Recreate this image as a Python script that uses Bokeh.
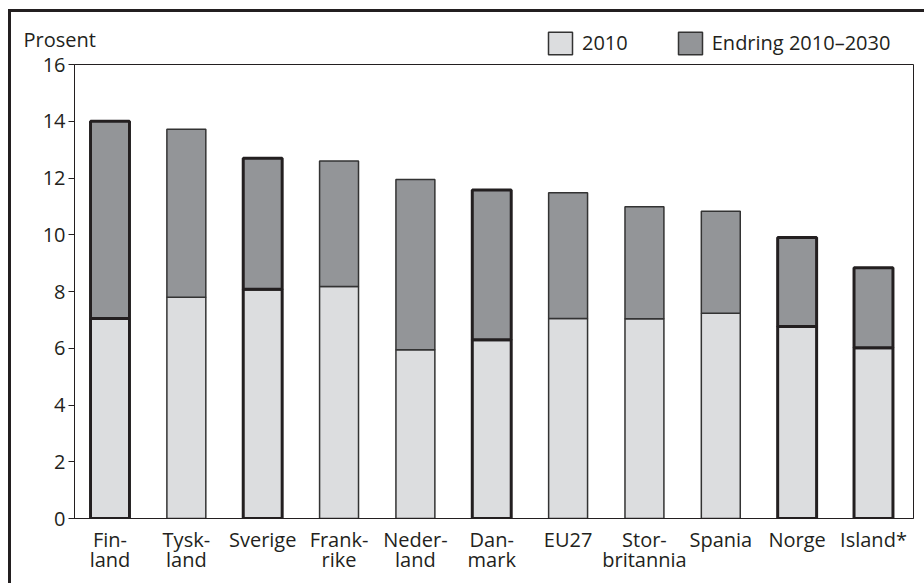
import numpy as np
from bokeh.plotting import figure
from bokeh.layouts import column
from bokeh.models import Range1d, FixedTicker, Legend, LegendItem, ColumnDataSource, Label
from bokeh.embed import file_html
from bokeh.resources import INLINE

# ---- data ----
countries = ["Fin-\nland", "Tysk-\nland", "Sverige", "Frank-\nrike", "Neder-\nland",
             "Dan-\nmark", "EU27", "Stor-\nbritannia", "Spania", "Norge", "Island*"]
share_2010 = [7.05, 7.80, 8.08, 8.18, 5.95, 6.30, 7.05, 7.04, 7.23, 6.77, 6.02]
change_2010_2030 = [6.95, 5.92, 4.62, 4.42, 6.00, 5.28, 4.43, 3.95, 3.60, 3.13, 2.82]
nordic = [True, False, True, False, False, True, False, False, False, True, True]
y_ticks = [0, 2, 4, 6, 8, 10, 12, 14, 16]
series_names = ["2010", "Endring 2010\u20132030"]

FONT = "Open Sans"
TXT = "#231f20"
LIGHT = "#dcdddf"
DARK = "#939598"
THIN = "#333333"

x = np.arange(len(countries))
base = np.array(share_2010)
top = base + np.array(change_2010_2030)
mask = np.array(nordic)

src_thin = ColumnDataSource(dict(x=x[~mask], base=base[~mask], top=top[~mask]))
src_thick = ColumnDataSource(dict(x=x[mask], base=base[mask], top=top[mask]))

# ---------- header strip: unit label + legend ----------
hdr = figure(width=913, height=46, output_backend="svg", toolbar_location=None,
             x_range=Range1d(-0.465, 10.524), y_range=Range1d(0, 16),
             x_axis_location=None, y_axis_location=None, min_border=0,
             border_fill_alpha=0, background_fill_alpha=0)
hdr.frame_align = False
hdr.outline_line_color = None
hdr.xgrid.visible = False
hdr.ygrid.visible = False
lg1 = hdr.vbar(x="x", bottom=0, top="base", width=0.51, source=src_thin,
               fill_color=LIGHT, line_color=THIN, line_width=1.5, visible=False)
lg2 = hdr.vbar(x="x", bottom="base", top="top", width=0.51, source=src_thin,
               fill_color=DARK, line_color=THIN, line_width=1.5, visible=False)
legend = Legend(items=[LegendItem(label=series_names[0], renderers=[lg1]),
                       LegendItem(label=series_names[1], renderers=[lg2])],
                orientation="horizontal", location=(534, 1.25),
                glyph_width=30, glyph_height=28, label_standoff=7, spacing=47,
                padding=0, margin=0, border_line_color=None, background_fill_alpha=0,
                label_text_font=FONT, label_text_font_size="20px", label_text_color=TXT,
                label_height=22)
hdr.add_layout(legend, "center")
hdr.add_layout(Label(x=12, y=19, x_units="screen", y_units="screen", text="Prosent",
                     text_font=FONT, text_font_size="20px", text_color=TXT,
                     text_baseline="alphabetic", text_align="left"))

# ---------- main chart ----------
p = figure(width=913, height=533, output_backend="svg", toolbar_location=None,
           x_range=Range1d(-0.465, 10.524), y_range=Range1d(0, 16),
           min_border_left=63, min_border_right=11, min_border_top=14, min_border_bottom=65,
           background_fill_color="white", border_fill_alpha=0,
           styles={"margin-top": "-8px"})
p.frame_align = False
p.outline_line_color = TXT
p.outline_line_width = 1
p.xgrid.visible = False
p.ygrid.visible = False

W = 0.51
p.vbar(x="x", bottom=0, top="base", width=W, source=src_thin,
       fill_color=LIGHT, line_color=THIN, line_width=1.5)
p.vbar(x="x", bottom="base", top="top", width=W, source=src_thin,
       fill_color=DARK, line_color=THIN, line_width=1.5)
p.vbar(x="x", bottom=0, top="base", width=W, source=src_thick,
       fill_color=LIGHT, line_color=TXT, line_width=3)
p.vbar(x="x", bottom="base", top="top", width=W, source=src_thick,
       fill_color=DARK, line_color=TXT, line_width=3)

# y axis
p.yaxis.ticker = FixedTicker(ticks=y_ticks)
p.yaxis.minor_tick_line_color = None
p.yaxis.major_tick_out = 6
p.yaxis.major_tick_in = 0
p.yaxis.major_tick_line_color = TXT
p.yaxis.axis_line_color = TXT
p.yaxis.major_label_standoff = 3
p.yaxis.major_label_text_font = FONT
p.yaxis.major_label_text_font_size = "20px"
p.yaxis.major_label_text_color = TXT

# x axis
p.xaxis.ticker = FixedTicker(ticks=list(range(len(countries))))
p.xaxis.major_label_overrides = {i: c for i, c in enumerate(countries)}
p.xaxis.minor_tick_line_color = None
p.xaxis.major_tick_line_color = None
p.xaxis.major_tick_out = 0
p.xaxis.major_tick_in = 0
p.xaxis.axis_line_color = TXT
p.xaxis.major_label_standoff = 7
p.xaxis.major_label_text_font = FONT
p.xaxis.major_label_text_font_size = "20px"
p.xaxis.major_label_text_color = TXT
p.xaxis.major_label_text_line_height = 0.77

layout = column(hdr, p, spacing=0,
                styles={"margin-left": "8px", "margin-top": "9px",
                        "border-left": "3px solid #231f20", "border-top": "3px solid #231f20"})

open("out.html", "w").write(file_html(layout, INLINE))
